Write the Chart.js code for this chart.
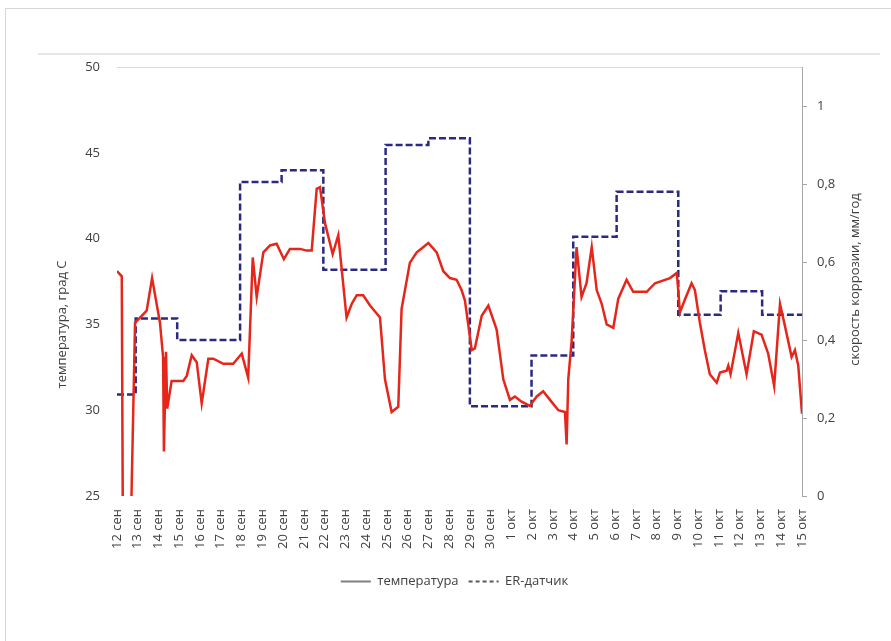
<!DOCTYPE html>
<html>
<head>
<meta charset="utf-8">
<script src="https://cdn.jsdelivr.net/npm/chart.js@4.4.0/dist/chart.umd.min.js"></script>
<style>
  html, body { margin: 0; padding: 0; background: #fff; }
  #wrap { position: relative; width: 891px; height: 641px; overflow: hidden; }
  .frame { position: absolute; left: 5px; top: 8px; width: 900px; height: 700px; border: 1px solid #d6d6d6; }
  .panel { position: absolute; left: 38px; top: 53px; width: 842px; height: 552px; border-top: 2px solid #e6e6e6; }
  canvas { position: absolute; left: 0; top: 0; }
</style>
</head>
<body>
<div id="wrap">
  <div class="frame"></div>
  <div class="panel"></div>
  <canvas id="chart" width="891" height="641"></canvas>
</div>
<script>
// подписи оси X (дни)
const tickLabels = ['12 сен', '13 сен', '14 сен', '15 сен', '16 сен', '17 сен', '18 сен', '19 сен',
  '20 сен', '21 сен', '22 сен', '23 сен', '24 сен', '25 сен', '26 сен', '27 сен', '28 сен', '29 сен',
  '30 сен', '1 окт', '2 окт', '3 окт', '4 окт', '5 окт', '6 окт', '7 окт', '8 окт', '9 окт',
  '10 окт', '11 окт', '12 окт', '13 окт', '14 окт', '15 окт'];

// температура: положение в днях от 12 сен и значение, град С
const tempDays = [0, 0.23, 0.29, 0.63, 0.87, 1.11, 1.43, 1.69, 2.07, 2.22,
  2.26, 2.36, 2.42, 2.63, 3.19, 3.36, 3.60, 3.84, 4.08, 4.40,
  4.64, 5.12, 5.60, 6.01, 6.32, 6.54, 6.73, 7.05, 7.37, 7.69,
  8.04, 8.33, 8.82, 9.14, 9.38, 9.62, 9.78, 10.02, 10.39, 10.66,
  11.06, 11.31, 11.55, 11.86, 12.19, 12.67, 12.91, 13.23, 13.55, 13.71,
  14.11, 14.44, 14.75, 15.0, 15.40, 15.72, 16.04, 16.36, 16.60, 16.76,
  17.09, 17.24, 17.57, 17.89, 18.29, 18.61, 18.93, 19.17, 19.49, 19.89,
  20.22, 20.53, 20.86, 21.26, 21.58, 21.66, 21.74, 21.90, 22.14, 22.38,
  22.62, 22.87, 23.11, 23.35, 23.59, 23.91, 24.15, 24.55, 24.87, 25.52,
  25.92, 26.64, 26.97, 27.12, 27.36, 27.68, 27.84, 28.08, 28.32, 28.56,
  28.89, 29.05, 29.37, 29.45, 29.56, 29.93, 30.33, 30.68, 31.05, 31.37,
  31.66, 31.94, 32.18, 32.50, 32.66, 32.82, 33.0];
const tempValues = [38.1, 37.8, 21, 21, 35.1, 35.4, 35.8, 37.7, 35.1, 33.1,
  27.6, 33.4, 30.1, 31.7, 31.7, 32.0, 33.2, 32.8, 30.4, 33.0,
  33.0, 32.7, 32.7, 33.3, 31.9, 38.9, 36.6, 39.2, 39.6, 39.7,
  38.8, 39.4, 39.4, 39.3, 39.3, 42.9, 43.0, 40.9, 39.1, 40.2,
  35.4, 36.2, 36.7, 36.7, 36.1, 35.4, 31.8, 29.9, 30.2, 35.9,
  38.6, 39.2, 39.5, 39.75, 39.2, 38.1, 37.7, 37.6, 37.0, 36.4,
  33.5, 33.6, 35.5, 36.1, 34.7, 31.8, 30.6, 30.8, 30.5, 30.25,
  30.8, 31.1, 30.6, 30.0, 29.9, 28.0, 31.8, 34.0, 39.5, 36.6,
  37.4, 39.5, 37.0, 36.2, 35.0, 34.8, 36.5, 37.6, 36.9, 36.9,
  37.4, 37.7, 38.0, 35.7, 36.45, 37.4, 37.0, 35.1, 33.5, 32.1,
  31.6, 32.2, 32.3, 32.6, 32.1, 34.5, 32.1, 34.6, 34.4, 33.3,
  31.4, 36.2, 34.9, 33.1, 33.5, 32.6, 29.8];

// ER-датчик: моменты смены показаний и скорость коррозии, мм/год
const erDays = [0, 0.9, 2.9, 5.93, 7.93, 9.94, 12.94, 15.0, 17.0, 19.97, 21.98, 24.07, 27.04, 29.08, 31.08, 33];
const erValues = [0.26, 0.455, 0.40, 0.805, 0.835, 0.58, 0.90, 0.917, 0.23, 0.36, 0.665, 0.78, 0.465, 0.525, 0.465, 0.465];

const textColor = '#404040';
const fontFamily = '"Open Sans", sans-serif';

// подписи осей повернуты снизу вверх с обеих сторон
const axisTitles = {
  id: 'axisTitles',
  afterDraw(chart) {
    const c = chart.ctx;
    const area = chart.chartArea;
    const mid = (area.top + area.bottom) / 2;
    c.save();
    c.fillStyle = textColor;
    c.font = '13px ' + fontFamily;
    c.textAlign = 'center';
    c.textBaseline = 'middle';
    c.translate(area.left - 55, mid + 43);
    c.rotate(-Math.PI / 2);
    c.fillText('температура, град С', 0, 0);
    c.restore();
    c.save();
    c.fillStyle = textColor;
    c.font = '13px ' + fontFamily;
    c.textAlign = 'center';
    c.textBaseline = 'middle';
    c.translate(area.right + 53, mid - 2);
    c.rotate(-Math.PI / 2);
    c.fillText('скорость коррозии, мм/год', 0, 0);
    c.restore();
  }
};

let ctx = document.getElementById('chart').getContext('2d');

let chart = new Chart(ctx, {
  type: 'line',
  data: {
    datasets: [{
      label: 'температура',
      data: tempDays.map((d, i) => ({ x: d, y: tempValues[i] })),
      yAxisID: 'yT',
      borderColor: '#e5261b',
      borderWidth: 2.5,
      pointRadius: 0,
      tension: 0
    }, {
      label: 'ER-датчик',
      data: erDays.map((d, i) => ({ x: d, y: erValues[i] })),
      yAxisID: 'yER',
      borderColor: '#2b2a80',
      borderWidth: 2.5,
      borderDash: [7, 3],
      pointRadius: 0,
      stepped: 'before'
    }]
  },
  options: {
    responsive: false,
    animation: false,
    layout: { padding: { left: 37, right: 19, top: 67, bottom: 43 } },
    font: { family: fontFamily, size: 13 },
    color: textColor,
    plugins: {
      tooltip: { enabled: false },
      legend: {
        position: 'bottom',
        labels: {
          usePointStyle: true,
          pointStyleWidth: 30,
          color: textColor,
          font: { family: fontFamily, size: 13 },
          generateLabels: () => [
            { text: 'температура', strokeStyle: '#7f7f7f', fillStyle: '#7f7f7f', lineWidth: 2, pointStyle: 'line', datasetIndex: 0, fontColor: textColor },
            { text: 'ER-датчик', strokeStyle: '#595959', fillStyle: '#595959', lineWidth: 2, lineDash: [4, 3], pointStyle: 'line', datasetIndex: 1, fontColor: textColor }
          ]
        }
      }
    },
    scales: {
      x: {
        type: 'linear',
        min: 0,
        max: 33,
        ticks: {
          stepSize: 1,
          autoSkip: false,
          minRotation: 90,
          maxRotation: 90,
          padding: 13,
          color: textColor,
          font: { family: fontFamily, size: 13 },
          callback: (v) => tickLabels[v]
        },
        grid: { display: false, drawTicks: false },
        border: { display: false },
        afterFit: (s) => { s.height = 69; }
      },
      yT: {
        position: 'left',
        min: 25,
        max: 50,
        ticks: { stepSize: 5, padding: 17, color: textColor, font: { family: fontFamily, size: 13 } },
        grid: {
          drawTicks: false,
          color: (c) => (c.tick && c.tick.value === 50 ? '#d9d9d9' : 'rgba(0,0,0,0)')
        },
        border: { display: false },
        afterFit: (s) => { s.width = 80; }
      },
      yER: {
        position: 'right',
        min: 0,
        max: 1.1,
        afterBuildTicks: (ax) => { ax.ticks = ax.ticks.filter((t) => t.value <= 1.0001); },
        ticks: {
          stepSize: 0.2,
          padding: 10,
          color: textColor,
          font: { family: fontFamily, size: 13 },
          callback: (v) => String(+v.toFixed(1)).replace('.', ',')
        },
        grid: { drawOnChartArea: false, tickLength: 5, color: '#a6a6a6' },
        border: { display: true, color: '#a6a6a6' },
        afterFit: (s) => { s.width = 70; }
      }
    }
  },
  plugins: [axisTitles]
});
</script>
</body>
</html>
